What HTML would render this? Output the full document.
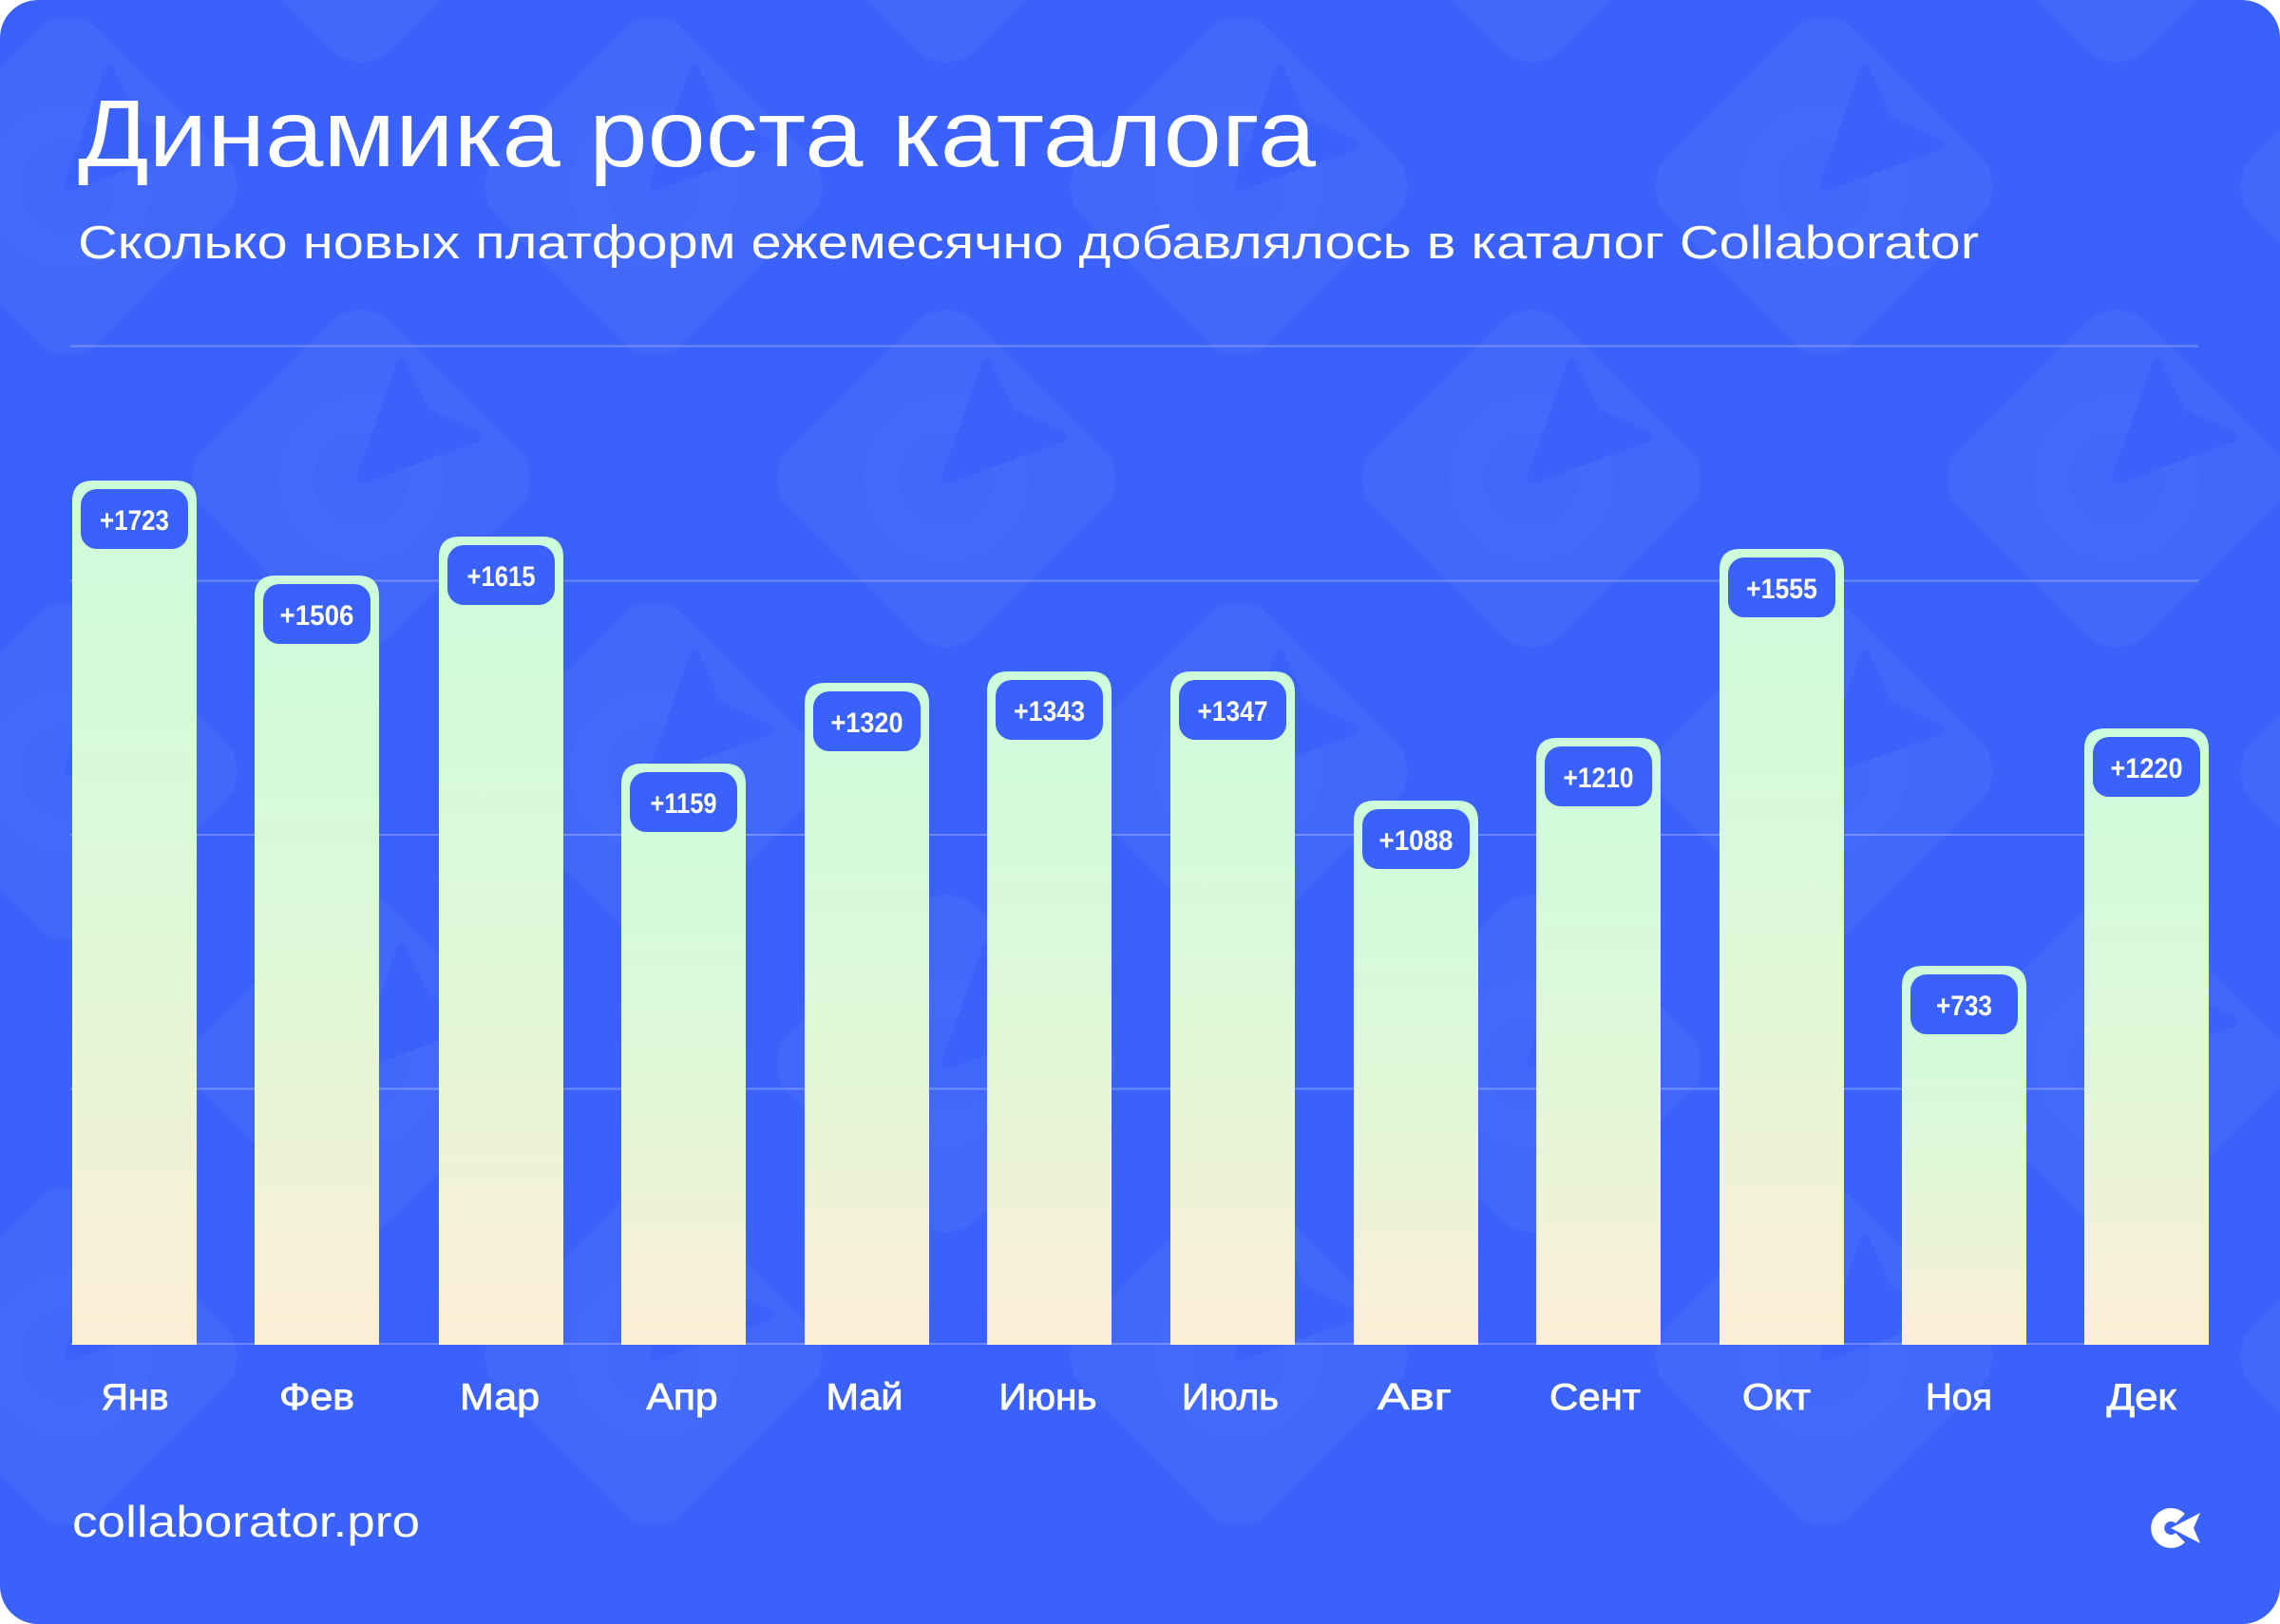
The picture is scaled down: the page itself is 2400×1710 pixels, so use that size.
<!DOCTYPE html>
<html><head><meta charset="utf-8"><style>
html,body{margin:0;padding:0;background:#fff;width:2400px;height:1710px;overflow:hidden;}
svg{display:block;}
</style></head><body>
<svg width="2400" height="1710" viewBox="0 0 2400 1710" xmlns="http://www.w3.org/2000/svg">
<defs>
<clipPath id="card"><rect x="0" y="0" width="2400" height="1710" rx="40" ry="40"/></clipPath>
<linearGradient id="bg" x1="0" y1="0" x2="0" y2="1">
<stop offset="0" stop-color="#cdfcda"/>
<stop offset="0.5" stop-color="#def8d8"/>
<stop offset="1" stop-color="#fdeed6"/>
</linearGradient>
<g id="tile">
<rect x="-139.5" y="-139.5" width="279" height="279" rx="48" ry="48" transform="rotate(45)" fill="#ffffff" fill-opacity="0.04"/>
<circle cx="0" cy="0" r="68.5" fill="none" stroke="#ffffff" stroke-opacity="0.018" stroke-width="37"/>
<polygon points="0,0 43,-122 68,-69 122,-44" fill="#3a62fb" stroke="#3a62fb" stroke-width="10" stroke-linejoin="round"/>
</g>
</defs>
<g clip-path="url(#card)">
<rect x="0" y="0" width="2400" height="1710" fill="#3a62fb"/>
<use href="#tile" x="-236" y="-112"/><use href="#tile" x="380" y="-112"/><use href="#tile" x="996" y="-112"/><use href="#tile" x="1612" y="-112"/><use href="#tile" x="2228" y="-112"/>
<use href="#tile" x="72" y="196"/><use href="#tile" x="688" y="196"/><use href="#tile" x="1304" y="196"/><use href="#tile" x="1920" y="196"/><use href="#tile" x="2536" y="196"/>
<use href="#tile" x="-236" y="504"/><use href="#tile" x="380" y="504"/><use href="#tile" x="996" y="504"/><use href="#tile" x="1612" y="504"/><use href="#tile" x="2228" y="504"/>
<use href="#tile" x="72" y="812"/><use href="#tile" x="688" y="812"/><use href="#tile" x="1304" y="812"/><use href="#tile" x="1920" y="812"/><use href="#tile" x="2536" y="812"/>
<use href="#tile" x="-236" y="1120"/><use href="#tile" x="380" y="1120"/><use href="#tile" x="996" y="1120"/><use href="#tile" x="1612" y="1120"/><use href="#tile" x="2228" y="1120"/>
<use href="#tile" x="72" y="1428"/><use href="#tile" x="688" y="1428"/><use href="#tile" x="1304" y="1428"/><use href="#tile" x="1920" y="1428"/><use href="#tile" x="2536" y="1428"/>
</g>

<text x="82" y="175" font-family="Liberation Sans, sans-serif" font-size="100" fill="#ffffff" textLength="1303" lengthAdjust="spacingAndGlyphs">Динамика роста каталога</text>
<text x="82" y="272" font-family="Liberation Sans, sans-serif" font-size="49" fill="#ffffff" textLength="2001" lengthAdjust="spacingAndGlyphs">Сколько новых платформ ежемесячно добавлялось в каталог Collaborator</text>

<g stroke="#ffffff" stroke-opacity="0.25" stroke-width="2">
<line x1="74" y1="364.5" x2="2314" y2="364.5"/>
<line x1="74" y1="611.5" x2="2314" y2="611.5"/>
<line x1="74" y1="879" x2="2314" y2="879"/>
<line x1="74" y1="1146.5" x2="2314" y2="1146.5"/>
<line x1="74" y1="1415" x2="2314" y2="1415"/>
</g>

<g font-family="Liberation Sans, sans-serif" font-weight="bold" font-size="30" fill="#ffffff" text-anchor="middle">
<path d="M76,1416 V528 Q76,506 98,506 H185 Q207,506 207,528 V1416 Z" fill="url(#bg)"/>
<rect x="85" y="515" width="113" height="63" rx="17" fill="#3a62fb"/>
<text x="141.5" y="558" textLength="73" lengthAdjust="spacingAndGlyphs">+1723</text>

<path d="M268,1416 V628 Q268,606 290,606 H377 Q399,606 399,628 V1416 Z" fill="url(#bg)"/>
<rect x="277" y="615" width="113" height="63" rx="17" fill="#3a62fb"/>
<text x="333.5" y="658" textLength="78" lengthAdjust="spacingAndGlyphs">+1506</text>

<path d="M462,1416 V587 Q462,565 484,565 H571 Q593,565 593,587 V1416 Z" fill="url(#bg)"/>
<rect x="471" y="574" width="113" height="63" rx="17" fill="#3a62fb"/>
<text x="527.5" y="617" textLength="72" lengthAdjust="spacingAndGlyphs">+1615</text>

<path d="M654,1416 V826 Q654,804 676,804 H763 Q785,804 785,826 V1416 Z" fill="url(#bg)"/>
<rect x="663" y="813" width="113" height="63" rx="17" fill="#3a62fb"/>
<text x="719.5" y="856" textLength="70" lengthAdjust="spacingAndGlyphs">+1159</text>

<path d="M847,1416 V741 Q847,719 869,719 H956 Q978,719 978,741 V1416 Z" fill="url(#bg)"/>
<rect x="856" y="728" width="113" height="63" rx="17" fill="#3a62fb"/>
<text x="912.5" y="771" textLength="76" lengthAdjust="spacingAndGlyphs">+1320</text>

<path d="M1039,1416 V729 Q1039,707 1061,707 H1148 Q1170,707 1170,729 V1416 Z" fill="url(#bg)"/>
<rect x="1048" y="716" width="113" height="63" rx="17" fill="#3a62fb"/>
<text x="1104.5" y="759" textLength="75" lengthAdjust="spacingAndGlyphs">+1343</text>

<path d="M1232,1416 V729 Q1232,707 1254,707 H1341 Q1363,707 1363,729 V1416 Z" fill="url(#bg)"/>
<rect x="1241" y="716" width="113" height="63" rx="17" fill="#3a62fb"/>
<text x="1297.5" y="759" textLength="74" lengthAdjust="spacingAndGlyphs">+1347</text>

<path d="M1425,1416 V865 Q1425,843 1447,843 H1534 Q1556,843 1556,865 V1416 Z" fill="url(#bg)"/>
<rect x="1434" y="852" width="113" height="63" rx="17" fill="#3a62fb"/>
<text x="1490.5" y="895" textLength="78" lengthAdjust="spacingAndGlyphs">+1088</text>

<path d="M1617,1416 V799 Q1617,777 1639,777 H1726 Q1748,777 1748,799 V1416 Z" fill="url(#bg)"/>
<rect x="1626" y="786" width="113" height="63" rx="17" fill="#3a62fb"/>
<text x="1682.5" y="829" textLength="74" lengthAdjust="spacingAndGlyphs">+1210</text>

<path d="M1810,1416 V600 Q1810,578 1832,578 H1919 Q1941,578 1941,600 V1416 Z" fill="url(#bg)"/>
<rect x="1819" y="587" width="113" height="63" rx="17" fill="#3a62fb"/>
<text x="1875.5" y="630" textLength="75" lengthAdjust="spacingAndGlyphs">+1555</text>

<path d="M2002,1416 V1039 Q2002,1017 2024,1017 H2111 Q2133,1017 2133,1039 V1416 Z" fill="url(#bg)"/>
<rect x="2011" y="1026" width="113" height="63" rx="17" fill="#3a62fb"/>
<text x="2067.5" y="1069" textLength="59" lengthAdjust="spacingAndGlyphs">+733</text>

<path d="M2194,1416 V789 Q2194,767 2216,767 H2303 Q2325,767 2325,789 V1416 Z" fill="url(#bg)"/>
<rect x="2203" y="776" width="113" height="63" rx="17" fill="#3a62fb"/>
<text x="2259.5" y="819" textLength="76" lengthAdjust="spacingAndGlyphs">+1220</text>
</g>

<g font-family="Liberation Sans, sans-serif" font-size="39" fill="#ffffff" stroke="#ffffff" stroke-width="0.9" text-anchor="middle">
<text x="142" y="1484" textLength="71" lengthAdjust="spacingAndGlyphs">Янв</text>
<text x="333.5" y="1484" textLength="79" lengthAdjust="spacingAndGlyphs">Фев</text>
<text x="526" y="1484" textLength="84" lengthAdjust="spacingAndGlyphs">Мар</text>
<text x="718" y="1484" textLength="75" lengthAdjust="spacingAndGlyphs">Апр</text>
<text x="910" y="1484" textLength="81" lengthAdjust="spacingAndGlyphs">Май</text>
<text x="1103" y="1484" textLength="103" lengthAdjust="spacingAndGlyphs">Июнь</text>
<text x="1295" y="1484" textLength="102" lengthAdjust="spacingAndGlyphs">Июль</text>
<text x="1489" y="1484" textLength="78" lengthAdjust="spacingAndGlyphs">Авг</text>
<text x="1679" y="1484" textLength="96" lengthAdjust="spacingAndGlyphs">Сент</text>
<text x="1870" y="1484" textLength="72" lengthAdjust="spacingAndGlyphs">Окт</text>
<text x="2062" y="1484" textLength="70" lengthAdjust="spacingAndGlyphs">Ноя</text>
<text x="2254" y="1484" textLength="73" lengthAdjust="spacingAndGlyphs">Дек</text>
</g>

<text x="76" y="1618" font-family="Liberation Sans, sans-serif" font-size="46" fill="#ffffff" textLength="366" lengthAdjust="spacingAndGlyphs">collaborator.pro</text>

<path d="M2295,1599 A14 14 0 1 0 2295,1619" fill="none" stroke="#ffffff" stroke-width="14"/>
<polygon points="2285,1609 2316,1593 2309,1609 2316,1625" fill="#ffffff" stroke="#3a62fb" stroke-width="3" stroke-linejoin="round"/>
<polygon points="2285,1609 2316,1593 2309,1609 2316,1625" fill="#ffffff"/>
</svg>
</body></html>
